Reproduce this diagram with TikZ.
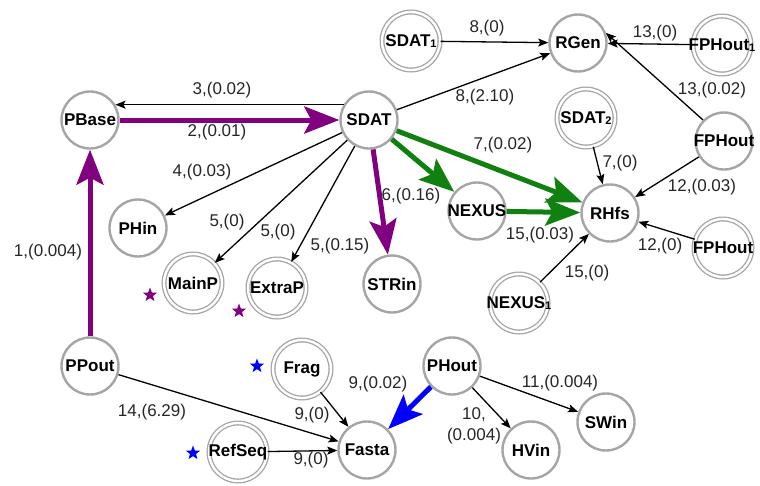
\documentclass[tikz,border=0pt]{standalone}
\usepackage{fontspec}
\setmainfont{Liberation Sans}
\usetikzlibrary{arrows.meta,shapes.geometric}
\definecolor{ngray}{RGB}{165,165,165}
\definecolor{npurple}{RGB}{128,0,128}
\definecolor{ngreen}{RGB}{16,128,16}
\definecolor{nblue}{RGB}{0,0,255}
\newcommand{\nlab}[1]{\makebox[0pt]{\fontsize{17}{17}\selectfont\bfseries #1}}
\newcommand{\sbn}[1]{\raisebox{-1.5pt}{\fontsize{11}{11}\selectfont #1}}
\begin{document}
\begin{tikzpicture}[x=1pt,y=-1pt,
 sn/.style={circle,draw=ngray,line width=2.4pt,minimum size=57pt,inner sep=0pt,fill=white},
 dn/.style={circle,draw=ngray,double=white,double distance=2.4pt,line width=1.3pt,minimum size=58pt,inner sep=0pt,fill=white},
 thinarr/.style={draw=black,line width=1.3pt,-{Stealth[length=10pt,width=8pt,inset=2pt]}},
 fatarr/.style={line width=5pt,-{Stealth[length=35pt,width=27pt,inset=7pt]}},
 lbl/.style={font=\fontsize{17}{21}\selectfont,text=black!85,inner sep=0pt,align=center},
 starn/.style={star,star points=5,star point ratio=2.4,minimum size=15pt,inner sep=0pt},
]
\useasboundingbox[fill=white] (0,0) rectangle (760,485);

% nodes
\node[sn] (PBase) at (90,120) {\nlab{PBase}};
\node[sn] (SDAT) at (369,120) {\nlab{SDAT}};
\node[dn] (SDATa) at (411,41) {\nlab{SDAT\sbn{1}}};
\node[sn] (RGen) at (578,43) {\nlab{RGen}};
\node[dn] (FPHouta) at (722,45) {\nlab{FPHout\sbn{1}}};
\node[dn] (SDATb) at (586,118) {\nlab{SDAT\sbn{2}}};
\node[sn] (FPHout) at (724,141) {\nlab{FPHout}};
\node[sn] (NEXUS) at (477,211) {\nlab{NEXUS}};
\node[sn] (RHfs) at (610,213) {\nlab{RHfs}};
\node[dn] (FPHoutb) at (723,248) {\nlab{FPHout}};
\node[dn] (NEXUSa) at (519,303) {\nlab{NEXUS\sbn{1}}};
\node[sn] (PHin) at (138,228) {\nlab{PHin}};
\node[dn] (MainP) at (193,283) {\nlab{MainP}};
\node[dn] (ExtraP) at (277,288) {\nlab{ExtraP}};
\node[sn] (STRin) at (392,284) {\nlab{STRin}};
\node[sn] (PPout) at (90,366) {\nlab{PPout}};
\node[dn] (Frag) at (302,369) {\nlab{Frag}};
\node[dn] (RefSeq) at (238,452) {\nlab{RefSeq}};
\node[sn] (Fasta) at (367,450) {\nlab{Fasta}};
\node[sn] (PHout) at (452,366) {\nlab{PHout}};
\node[sn] (HVin) at (531,450) {\nlab{HVin}};
\node[sn] (SWin) at (606,422) {\nlab{SWin}};

% stars
\node[starn,fill=npurple] (st1) at (150,295) {};
\node[starn,fill=npurple] (st2) at (239,311) {};
\node[starn,fill=nblue] (st3) at (257,366) {};
\node[starn,fill=nblue] (st4) at (193,453) {};

% thin edges
\draw[thinarr] (SDAT.149) -- (PBase.31);
\draw[thinarr] (SDAT) -- (PHin);
\draw[thinarr] (SDAT) -- (MainP);
\draw[thinarr] (SDAT) -- (ExtraP);
\draw[thinarr] (SDAT) -- (RGen);
\draw[thinarr] (SDATa) -- (RGen);
\draw[thinarr] (FPHouta) -- (RGen);
\draw[thinarr] (FPHout.135) -- (RGen.20);
\draw[thinarr] (SDATb) -- (RHfs);
\draw[thinarr] (FPHout) -- (RHfs);
\draw[thinarr] (FPHoutb) -- (RHfs);
\draw[thinarr] (NEXUSa) -- (RHfs);
\draw[thinarr] (PPout) -- (Fasta);
\draw[thinarr] (Frag) -- (Fasta);
\draw[thinarr] (RefSeq) -- (Fasta);
\draw[thinarr] (PHout) -- (HVin);
\draw[thinarr] (PHout) -- (SWin);

% thick edges
\draw[fatarr,npurple] (PBase) -- (SDAT);
\draw[fatarr,npurple] (PPout) -- (PBase);
\draw[fatarr,npurple] (SDAT) -- (STRin);
\draw[fatarr,ngreen] (SDAT) -- (NEXUS);
\draw[fatarr,ngreen] (SDAT) -- (RHfs);
\draw[fatarr,ngreen] (NEXUS) -- (RHfs);
\draw[fatarr,nblue] (PHout) -- (Fasta);

% labels
\node[lbl] (l1) at (222,90) {3,(0.02)};
\node[lbl] (l2) at (217,132) {2,(0.01)};
\node[lbl] (l3) at (48,252) {1,(0.004)};
\node[lbl] (l4) at (202,172) {4,(0.03)};
\node[lbl] (l5) at (227,222) {5,(0)};
\node[lbl] (l6) at (278,232) {5,(0)};
\node[lbl] (l7) at (340,246) {5,(0.15)};
\node[lbl] (l8) at (411,196) {6,(0.16)};
\node[lbl] (l9) at (503,145) {7,(0.02)};
\node[lbl] (l10) at (485,97) {8,(2.10)};
\node[lbl] (l11) at (487,28) {8,(0)};
\node[lbl] (l12) at (655,33) {13,(0)};
\node[lbl] (l13) at (712,90) {13,(0.02)};
\node[lbl] (l14) at (620,163) {7,(0)};
\node[lbl] (l15) at (702,187) {12,(0.03)};
\node[lbl] (l16) at (660,246) {12,(0)};
\node[lbl] (l17) at (540,235) {15,(0.03)};
\node[lbl] (l18) at (587,273) {15,(0)};
\node[lbl] (l19) at (152,412) {14,(6.29)};
\node[lbl] (l20) at (312,415) {9,(0)};
\node[lbl] (l21) at (311,460) {9,(0)};
\node[lbl] (l22) at (378,384) {9,(0.02)};
\node[lbl] (l23) at (474,426) {10,\\(0.004)};
\node[lbl] (l24) at (560,383) {11,(0.004)};
\end{tikzpicture}
\end{document}
